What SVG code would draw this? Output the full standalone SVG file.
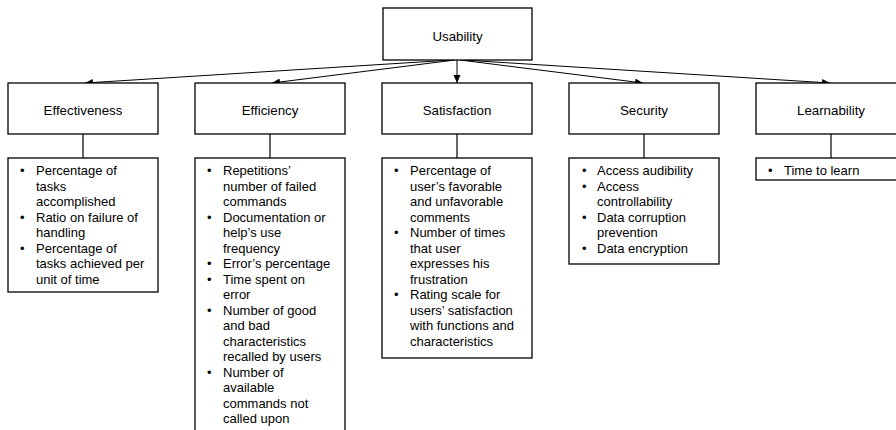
<svg xmlns="http://www.w3.org/2000/svg" width="896" height="430" viewBox="0 0 896 430">
  <style>
    .box { fill: #ffffff; stroke: #000000; stroke-width: 1.3; }
    .label { font-family: "Liberation Sans", Arial, sans-serif; font-size: 13.3px; fill: #000000; text-anchor: middle; }
    .item { font-family: "Liberation Sans", Arial, sans-serif; font-size: 13px; fill: #000000; }
    .arrow { stroke: #000000; stroke-width: 1; fill: none; }
    .link { stroke: #333333; stroke-width: 1.5; fill: none; }
  </style>
  <defs>
    <marker id="head" markerUnits="userSpaceOnUse" markerWidth="9" markerHeight="8" refX="8" refY="3.5" orient="auto">
      <path d="M0,0 L8,3.5 L0,7 z" fill="#000000"/>
    </marker>
  </defs>
  <rect width="896" height="430" fill="#ffffff"/>

  <!-- connectors: root to categories, categories to their metric lists -->
  <g id="connectors">
    <line class="arrow" x1="452" y1="60" x2="85" y2="83" marker-end="url(#head)"/>
    <line class="arrow" x1="455" y1="60" x2="272" y2="83" marker-end="url(#head)"/>
    <line class="arrow" x1="457" y1="60" x2="457" y2="83" marker-end="url(#head)"/>
    <line class="arrow" x1="460" y1="60" x2="643" y2="83" marker-end="url(#head)"/>
    <line class="arrow" x1="463" y1="60" x2="830" y2="83" marker-end="url(#head)"/>
    <line class="link" x1="83" y1="134" x2="83" y2="158"/>
    <line class="link" x1="270" y1="134" x2="270" y2="158"/>
    <line class="link" x1="457" y1="134" x2="457" y2="158"/>
    <line class="link" x1="644" y1="134" x2="644" y2="158"/>
    <line class="link" x1="831" y1="134" x2="831" y2="158"/>
  </g>

  <g id="usability">
    <rect class="box" x="383" y="8" width="149" height="52"/>
    <text class="label" x="457.5" y="40.5">Usability</text>
  </g>

  <g id="effectiveness">
    <rect class="box" x="8" y="83" width="150" height="51"/>
    <text class="label" x="83" y="115">Effectiveness</text>
  </g>
  <g id="efficiency">
    <rect class="box" x="195" y="83" width="150" height="51"/>
    <text class="label" x="270" y="115">Efficiency</text>
  </g>
  <g id="satisfaction">
    <rect class="box" x="382" y="83" width="150" height="51"/>
    <text class="label" x="457" y="115">Satisfaction</text>
  </g>
  <g id="security">
    <rect class="box" x="569" y="83" width="150" height="51"/>
    <text class="label" x="644" y="115">Security</text>
  </g>
  <g id="learnability">
    <rect class="box" x="756" y="83" width="150" height="51"/>
    <text class="label" x="831" y="115">Learnability</text>
  </g>

  <g id="effectiveness-metrics">
    <rect class="box" x="8" y="158" width="150" height="134"/>
    <text class="item" x="20" y="175">•<tspan x="20" y="221.5">•</tspan><tspan x="20" y="252.5">•</tspan></text>
    <text class="item">
      <tspan x="36" y="175">Percentage of</tspan>
      <tspan x="36" dy="15.5">tasks</tspan>
      <tspan x="36" dy="15.5">accomplished</tspan>
      <tspan x="36" dy="15.5">Ratio on failure of</tspan>
      <tspan x="36" dy="15.5">handling</tspan>
      <tspan x="36" dy="15.5">Percentage of</tspan>
      <tspan x="36" dy="15.5">tasks achieved per</tspan>
      <tspan x="36" dy="15.5">unit of time</tspan>
    </text>
  </g>

  <g id="efficiency-metrics">
    <rect class="box" x="195" y="158" width="150" height="290"/>
    <text class="item" x="207" y="175">•<tspan x="207" y="221.5">•</tspan><tspan x="207" y="268">•</tspan><tspan x="207" y="283.5">•</tspan><tspan x="207" y="314.5">•</tspan><tspan x="207" y="376.5">•</tspan></text>
    <text class="item">
      <tspan x="223" y="175">Repetitions’</tspan>
      <tspan x="223" dy="15.5">number of failed</tspan>
      <tspan x="223" dy="15.5">commands</tspan>
      <tspan x="223" dy="15.5">Documentation or</tspan>
      <tspan x="223" dy="15.5">help’s use</tspan>
      <tspan x="223" dy="15.5">frequency</tspan>
      <tspan x="223" dy="15.5">Error’s percentage</tspan>
      <tspan x="223" dy="15.5">Time spent on</tspan>
      <tspan x="223" dy="15.5">error</tspan>
      <tspan x="223" dy="15.5">Number of good</tspan>
      <tspan x="223" dy="15.5">and bad</tspan>
      <tspan x="223" dy="15.5">characteristics</tspan>
      <tspan x="223" dy="15.5">recalled by users</tspan>
      <tspan x="223" dy="15.5">Number of</tspan>
      <tspan x="223" dy="15.5">available</tspan>
      <tspan x="223" dy="15.5">commands not</tspan>
      <tspan x="223" dy="15.5">called upon</tspan>
    </text>
  </g>

  <g id="satisfaction-metrics">
    <rect class="box" x="382" y="158" width="150" height="200"/>
    <text class="item" x="394" y="175">•<tspan x="394" y="237">•</tspan><tspan x="394" y="299">•</tspan></text>
    <text class="item">
      <tspan x="410" y="175">Percentage of</tspan>
      <tspan x="410" dy="15.5">user’s favorable</tspan>
      <tspan x="410" dy="15.5">and unfavorable</tspan>
      <tspan x="410" dy="15.5">comments</tspan>
      <tspan x="410" dy="15.5">Number of times</tspan>
      <tspan x="410" dy="15.5">that user</tspan>
      <tspan x="410" dy="15.5">expresses his</tspan>
      <tspan x="410" dy="15.5">frustration</tspan>
      <tspan x="410" dy="15.5">Rating scale for</tspan>
      <tspan x="410" dy="15.5">users’ satisfaction</tspan>
      <tspan x="410" dy="15.5">with functions and</tspan>
      <tspan x="410" dy="15.5">characteristics</tspan>
    </text>
  </g>

  <g id="security-metrics">
    <rect class="box" x="569" y="158" width="150" height="106"/>
    <text class="item" x="582" y="175">•<tspan x="582" y="190.5">•</tspan><tspan x="582" y="221.5">•</tspan><tspan x="582" y="252.5">•</tspan></text>
    <text class="item">
      <tspan x="597" y="175">Access audibility</tspan>
      <tspan x="597" dy="15.5">Access</tspan>
      <tspan x="597" dy="15.5">controllability</tspan>
      <tspan x="597" dy="15.5">Data corruption</tspan>
      <tspan x="597" dy="15.5">prevention</tspan>
      <tspan x="597" dy="15.5">Data encryption</tspan>
    </text>
  </g>

  <g id="learnability-metrics">
    <rect class="box" x="756" y="158" width="150" height="22"/>
    <text class="item" x="768" y="174.5">•</text>
    <text class="item" x="784" y="174.5">Time to learn</text>
  </g>
</svg>
